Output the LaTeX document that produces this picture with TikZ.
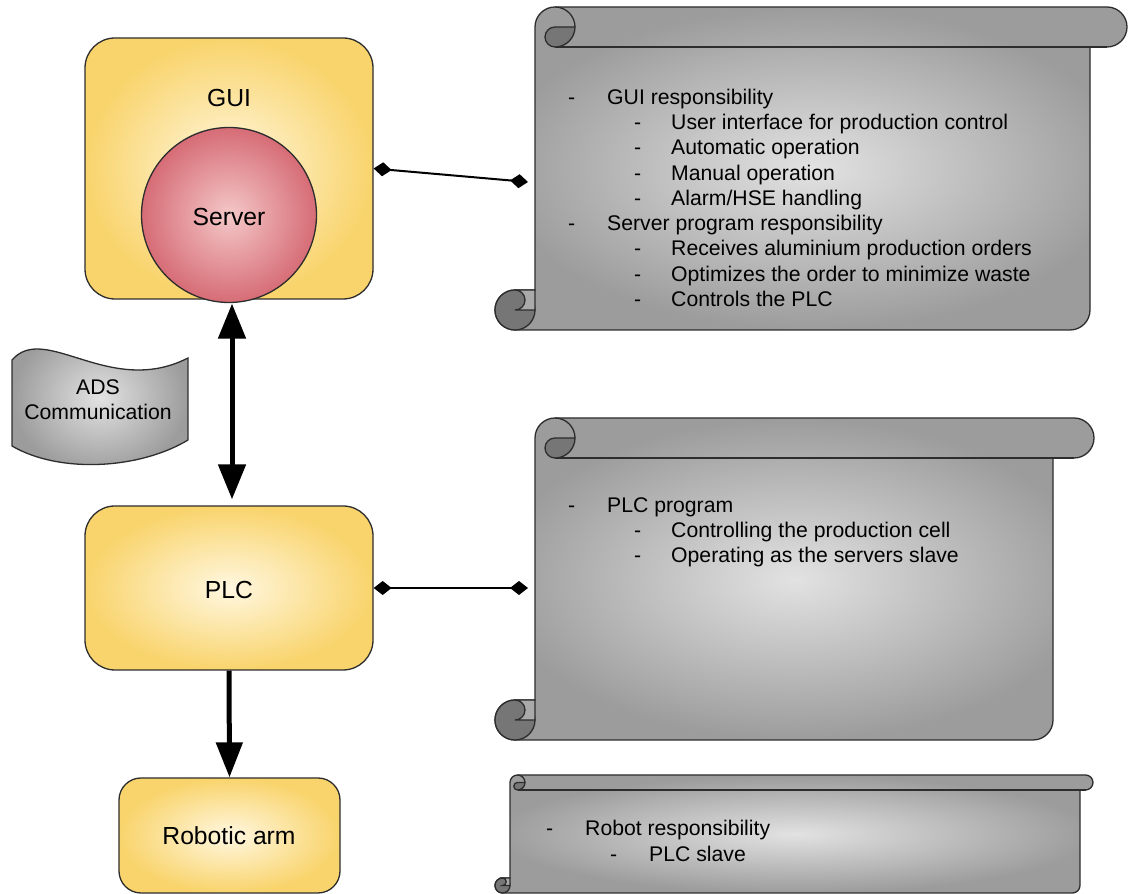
\documentclass[tikz,border=0pt]{standalone}
\usepackage{fontspec}
\setmainfont{Liberation Sans}
\usetikzlibrary{arrows.meta,shapes.geometric}
\definecolor{linecol}{RGB}{45,45,45}
\definecolor{yout}{RGB}{249,212,108}
\definecolor{yin}{RGB}{255,247,224}
\definecolor{srout}{RGB}{214,108,118}
\definecolor{srin}{RGB}{244,200,200}
\definecolor{gout}{RGB}{156,156,156}
\definecolor{gin}{RGB}{226,226,226}
\definecolor{gdark}{RGB}{118,118,118}
\definecolor{gmid}{RGB}{170,170,170}
\newcommand\myscroll[6]{%
 \pgfmathsetmacro\scCx{#1+#3}%
 \pgfmathsetmacro\scCy{#2-#3}%
 \pgfmathsetmacro\scBb{#2-2*#3}%
 \pgfmathsetmacro\scRx{#4-#3}%
 \pgfmathsetmacro\scBx{#1-#3}%
 \pgfmathsetmacro\scBy{#6+#3}%
 \pgfmathsetmacro\scBt{#6+2*#3}%
 \pgfmathsetmacro\scRc{#6+#3}%
 \pgfmathsetmacro\scHalf{#3/2}%
 \path[scrollline, inner color=gin, outer color=gout] (#1,\scCy) arc[start angle=180,end angle=90,radius=#3] -- (\scRx,#2) arc[start angle=90,end angle=-90,radius=#3] -- (#5,\scBb) -- (#5,\scRc) arc[start angle=0,end angle=-90,radius=#3] -- (\scBx,#6) arc[start angle=-90,end angle=-270,radius=#3] -- (#1,\scBt) -- cycle;
 \draw[scrollline] (\scCx,\scBb) -- (\scRx,\scBb);
 \draw[scrollline] (\scCx,#2) arc[start angle=90,end angle=0,radius=#3];
 \filldraw[scrollline, fill=gdark] (\scCx,\scCy) arc[start angle=90,end angle=270,radius=\scHalf] arc[start angle=270,end angle=360,radius=#3] -- cycle;
 \filldraw[scrollline, fill=gdark] (\scBx,\scBy) circle[radius=#3];
 \filldraw[scrollline, fill=gmid] (\scBx,\scBy) arc[start angle=-90,end angle=90,radius=\scHalf] -- (#1,\scBt) -- (#1,\scBy) -- cycle;
}
\newcommand\litem[5]{\node[txt] (#1d) at (#2,#4) {-}; \node[txt] (#1) at (#3,#4) {#5};}
\begin{document}
\begin{tikzpicture}[x=1pt,y=1pt,
  scrollline/.style={draw=linecol, line width=1.3pt},
  ybox/.style={draw=linecol, line width=1.3pt, inner color=yin, outer color=yout, rounded corners=30pt, inner sep=0pt},
  lbl/.style={inner sep=0pt, font=\fontsize{24.7pt}{30pt}\selectfont},
  adsl/.style={inner sep=0pt, align=center, font=\fontsize{21.2pt}{25.25pt}\selectfont},
  txt/.style={anchor=base west, inner sep=0pt, font=\fontsize{21.2pt}{25.25pt}\selectfont},
  bigarr/.style={line width=5pt, draw=black},
  dconn/.style={line width=2pt, draw=black, {Diamond[length=18pt,width=14pt]}-{Diamond[length=18pt,width=14pt]}}
]
\useasboundingbox (0,0) rectangle (1128,894);

% scrolls
\myscroll{535}{887}{20}{1127}{1090}{564}
\myscroll{535}{476}{20}{1094}{1053}{154}
\myscroll{510}{119}{7.5}{1093}{1080}{1}

% ADS wave
\path[scrollline, inner color=gin, outer color=gout] (12,534) .. controls (45,572) and (110,496) .. (188,536) -- (188,454) .. controls (140,425) and (60,420) .. (12,448) -- cycle;
\node[adsl] (ads) at (98,494) {ADS\\Communication};

% boxes
\node[ybox, minimum width=288pt, minimum height=261pt] (gui) at (229,725.5) {};
\node[lbl] (guilbl) at (229,796) {GUI};
\node[circle, draw=linecol, line width=1.3pt, inner color=srin, outer color=srout, minimum size=175pt, inner sep=0pt] (server) at (229,679) {};
\node[lbl] (serverlbl) at (229,677) {Server};
\node[ybox, minimum width=288pt, minimum height=164pt] (plc) at (229,306) {};
\node[lbl] (plclbl) at (229,304) {PLC};
\node[ybox, rounded corners=22pt, minimum width=221pt, minimum height=115pt] (robot) at (229.5,58.5) {};
\node[lbl] (robotlbl) at (229,58) {Robotic arm};

% arrows
\draw[bigarr, {Triangle[length=35pt,width=27pt]}-{Triangle[length=35pt,width=27pt]}] ([xshift=3pt,yshift=-4pt]gui.south) -- ([xshift=3pt,yshift=6pt]plc.north);
\draw[bigarr, -{Triangle[length=35pt,width=26pt]}] (plc.south) -- (robot.north);

\coordinate (c1) at (528,712);
\coordinate (c2) at (528,306);
\draw[dconn] (gui.east) -- (c1);
\draw[dconn] (plc.east) -- (c2);

% scroll 1 text
\litem{a1}{568}{607}{789.5}{GUI responsibility}
\litem{a2}{634}{671}{764.25}{User interface for production control}
\litem{a3}{634}{671}{739}{Automatic operation}
\litem{a4}{634}{671}{713.75}{Manual operation}
\litem{a5}{634}{671}{688.5}{Alarm/HSE handling}
\litem{a6}{568}{607}{663.25}{Server program responsibility}
\litem{a7}{634}{671}{638}{Receives aluminium production orders}
\litem{a8}{634}{671}{612.75}{Optimizes the order to minimize waste}
\litem{a9}{634}{671}{587.5}{Controls the PLC}

% scroll 2 text
\litem{b1}{568}{607}{381.5}{PLC program}
\litem{b2}{634}{671}{356.5}{Controlling the production cell}
\litem{b3}{634}{671}{331.5}{Operating as the servers slave}

% scroll 3 text
\litem{c1t}{546}{585}{58.5}{Robot responsibility}
\litem{c2t}{610}{649}{32.5}{PLC slave}
\end{tikzpicture}
\end{document}
